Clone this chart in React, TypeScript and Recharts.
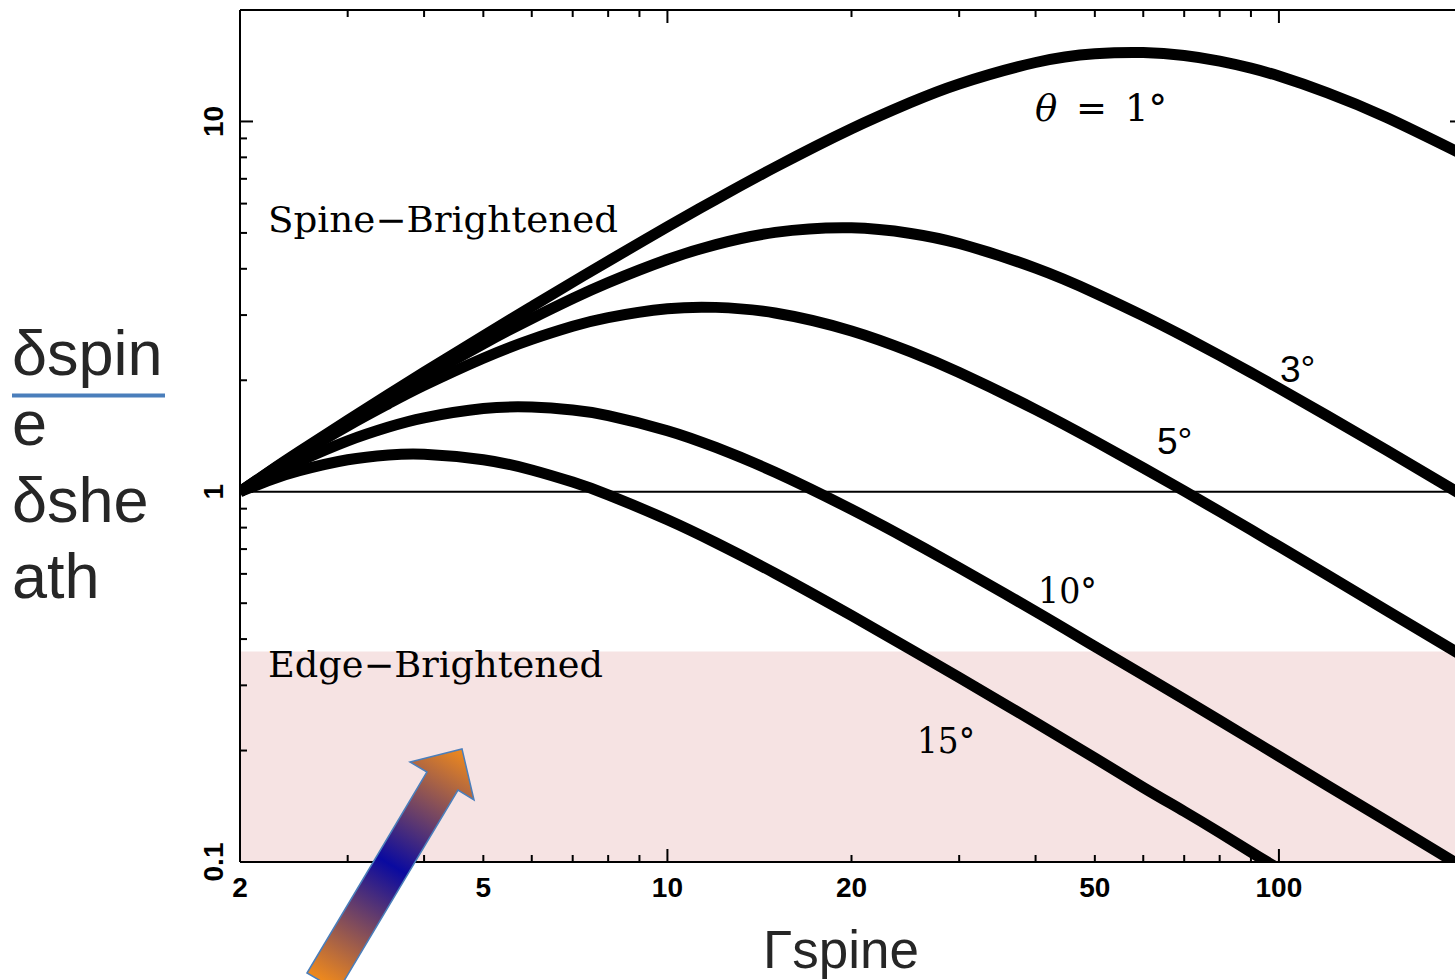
import React from 'react';
import { Line, LineChart, ReferenceArea, ReferenceLine, XAxis, YAxis } from 'recharts';

// Lorentz factor of the spine (sheath fixed at 2)
const gammaSpine = [2, 2.25, 2.5, 3, 3.5, 4, 5, 6, 7, 8, 10, 12, 15, 20, 25, 30, 40, 50, 60, 70, 80, 90, 100, 120, 150, 200];

// Doppler ratio δspine/δsheath for each viewing angle
const ratioTheta1 = [1, 1.143, 1.283, 1.559, 1.832, 2.102, 2.636, 3.162, 3.682, 4.194, 5.193, 6.158, 7.522, 9.559, 11.26, 12.63, 14.43, 15.23, 15.35, 15.07, 14.55, 13.93, 13.26, 11.95, 10.25, 8.14];
const ratioTheta3 = [1, 1.14, 1.276, 1.541, 1.796, 2.043, 2.509, 2.937, 3.325, 3.672, 4.239, 4.651, 5.016, 5.16, 4.984, 4.68, 4.017, 3.443, 2.985, 2.623, 2.333, 2.097, 1.903, 1.603, 1.294, 0.977];
const ratioTheta5 = [1, 1.134, 1.263, 1.506, 1.73, 1.937, 2.294, 2.579, 2.797, 2.954, 3.12, 3.147, 3.039, 2.718, 2.386, 2.099, 1.667, 1.371, 1.16, 1.004, 0.884, 0.789, 0.712, 0.596, 0.478, 0.36];
const ratioTheta10 = [1, 1.11, 1.208, 1.372, 1.495, 1.583, 1.677, 1.693, 1.662, 1.605, 1.462, 1.317, 1.129, 0.896, 0.737, 0.623, 0.475, 0.382, 0.32, 0.275, 0.241, 0.2144, 0.193, 0.161, 0.129, 0.0968];
const ratioTheta15 = [1, 1.079, 1.14, 1.22, 1.257, 1.263, 1.22, 1.145, 1.062, 0.981, 0.84, 0.728, 0.602, 0.463, 0.375, 0.315, 0.238, 0.191, 0.159, 0.137, 0.12, 0.1064, 0.0958, 0.0799, 0.0639, 0.048];

const seriesKeys = ['t1', 't3', 't5', 't10', 't15'];
const seriesValues = [ratioTheta1, ratioTheta3, ratioTheta5, ratioTheta10, ratioTheta15];

const xTicks = [2, 3, 4, 5, 6, 7, 8, 9, 10, 20, 30, 40, 50, 60, 70, 80, 90, 100, 200];
const xTickLabels = [2, 5, 10, 20, 50, 100];
const xMajor = [10, 100];

const yTicks = [0.1, 0.2, 0.3, 0.4, 0.5, 0.6, 0.7, 0.8, 0.9, 1, 2, 3, 4, 5, 6, 7, 8, 9, 10, 20];
const yTickLabels = [0.1, 1, 10];
const yMajor = [1, 10];

// edge-brightened region: ratio below this
const edgeLimit = 0.37;

const data = gammaSpine.map((g, i) => {
  const row: Record<string, number> = { gamma: g };
  seriesKeys.forEach((k, j) => {
    row[k] = seriesValues[j][i];
  });
  return row;
});

const tickFont = '"Liberation Sans", Arial, sans-serif';
const serif = '"DejaVu Serif", "Liberation Serif", serif';
const sans = '"Liberation Sans", Arial, sans-serif';

function BottomTick(props: any) {
  const { x, y, payload } = props;
  const v = payload.value;
  const len = xMajor.includes(v) ? 13 : 7;
  return (
    <g>
      <line x1={x} x2={x} y1={y} y2={y - len} stroke="#000" strokeWidth={2} />
      {xTickLabels.includes(v) && (
        <text x={x} y={y + 35} textAnchor="middle" fontFamily={tickFont} fontWeight="bold" fontSize={28} fill="#000">
          {v}
        </text>
      )}
    </g>
  );
}

function TopTick(props: any) {
  const { x, y, payload } = props;
  const len = xMajor.includes(payload.value) ? 13 : 7;
  return <line x1={x} x2={x} y1={y} y2={y + len} stroke="#000" strokeWidth={2} />;
}

function LeftTick(props: any) {
  const { x, y, payload } = props;
  const v = payload.value;
  const len = yMajor.includes(v) ? 13 : 7;
  const cx = x - 27;
  return (
    <g>
      <line x1={x} x2={x + len} y1={y} y2={y} stroke="#000" strokeWidth={2} />
      {yTickLabels.includes(v) && (
        <text
          x={cx}
          y={y + 10}
          transform={`rotate(-90 ${cx} ${y})`}
          textAnchor="middle"
          fontFamily={tickFont}
          fontWeight="bold"
          fontSize={28}
          fill="#000"
        >
          {v}
        </text>
      )}
    </g>
  );
}

function RightTick(props: any) {
  const { x, y, payload } = props;
  const len = yMajor.includes(payload.value) ? 13 : 7;
  return <line x1={x} x2={x - len} y1={y} y2={y} stroke="#000" strokeWidth={2} />;
}

function Arrow() {
  return (
    <g>
      <defs>
        <linearGradient id="arrowFill" gradientUnits="userSpaceOnUse" x1={322} y1={982} x2={462} y2={749}>
          <stop offset="0" stopColor="#f08a1c" />
          <stop offset="0.5" stopColor="#0a0aa0" />
          <stop offset="1" stopColor="#f08a1c" />
        </linearGradient>
      </defs>
      <polygon
        points="307,973 427,772 410,762 462,749 474,800 458,790 338,991"
        fill="url(#arrowFill)"
        stroke="#4a7ebb"
        strokeWidth={1.5}
        strokeLinejoin="miter"
      />
    </g>
  );
}

const axisLineStyle = { stroke: '#000', strokeWidth: 2 };

export default function App() {
  return (
    <div style={{ position: 'absolute', left: 0, top: 0, width: 1455, height: 980, overflow: 'hidden', background: '#fff' }}>
      <LineChart width={1480} height={980} data={data} margin={{ top: 9, right: 16, bottom: 117, left: 239 }}>
        <XAxis
          xAxisId="bottom"
          dataKey="gamma"
          type="number"
          scale="log"
          domain={[2, 200]}
          allowDataOverflow
          ticks={xTicks}
          interval={0}
          height={1}
          tickSize={0}
          tickMargin={0}
          tickLine={false}
          tick={BottomTick}
          axisLine={axisLineStyle}
        />
        <XAxis
          xAxisId="top"
          orientation="top"
          dataKey="gamma"
          type="number"
          scale="log"
          domain={[2, 200]}
          allowDataOverflow
          ticks={xTicks}
          interval={0}
          height={1}
          tickSize={0}
          tickMargin={0}
          tickLine={false}
          tick={TopTick}
          axisLine={axisLineStyle}
        />
        <YAxis
          yAxisId="left"
          type="number"
          scale="log"
          domain={[0.1, 20]}
          allowDataOverflow
          ticks={yTicks}
          interval={0}
          width={1}
          tickSize={0}
          tickMargin={0}
          tickLine={false}
          tick={LeftTick}
          axisLine={axisLineStyle}
        />
        <YAxis
          yAxisId="right"
          orientation="right"
          type="number"
          scale="log"
          domain={[0.1, 20]}
          allowDataOverflow
          ticks={yTicks}
          interval={0}
          width={1}
          tickSize={0}
          tickMargin={0}
          tickLine={false}
          tick={RightTick}
          axisLine={axisLineStyle}
        />
        <ReferenceArea
          xAxisId="bottom"
          yAxisId="left"
          y1={0.1}
          y2={edgeLimit}
          fill="#f6e3e3"
          fillOpacity={1}
          stroke="none"
        />
        <ReferenceLine xAxisId="bottom" yAxisId="left" y={1} stroke="#000" strokeWidth={2} />
        {seriesKeys.map((k) => (
          <Line
            key={k}
            xAxisId="bottom"
            yAxisId="left"
            dataKey={k}
            type="natural"
            stroke="#000"
            strokeWidth={11}
            strokeLinejoin="round"
            dot={false}
            activeDot={false}
            isAnimationActive={false}
          />
        ))}
      </LineChart>

      <svg
        width={1455}
        height={980}
        style={{ position: 'absolute', left: 0, top: 0, pointerEvents: 'none' }}
      >
        {/* region and angle annotations */}
        <text x={268} y={232} fontFamily={serif} fontSize={35} textLength={350} lengthAdjust="spacingAndGlyphs" fill="#000">
          Spine−Brightened
        </text>
        <text x={268} y={677} fontFamily={serif} fontSize={35} textLength={335} lengthAdjust="spacingAndGlyphs" fill="#000">
          Edge−Brightened
        </text>
        <text y={121} fontFamily={serif} fontSize={37} fill="#000">
          <tspan x={1035} fontStyle="italic">θ</tspan>
          <tspan x={1076}>=</tspan>
          <tspan x={1125}>1°</tspan>
        </text>
        <text x={1280} y={382} fontFamily={sans} fontSize={37} fill="#000">3°</text>
        <text x={1157} y={454} fontFamily={sans} fontSize={37} fill="#000">5°</text>
        <text x={1038} y={603} fontFamily={serif} fontSize={36} textLength={59} lengthAdjust="spacingAndGlyphs" fill="#000">
          10°
        </text>
        <text x={917} y={753} fontFamily={serif} fontSize={36} textLength={58} lengthAdjust="spacingAndGlyphs" fill="#000">
          15°
        </text>

        {/* axis titles */}
        <g fontFamily={sans} fontSize={63} fill="#262626">
          <text x={12} y={375}>δspin</text>
          <text x={12} y={445}>e</text>
          <text x={12} y={522}>δshe</text>
          <text x={12} y={598}>ath</text>
        </g>
        <line x1={12} x2={165} y1={395.5} y2={395.5} stroke="#4a7ebb" strokeWidth={4} />
        <text x={763} y={968} fontFamily={sans} fontSize={53} fill="#262626">Γspine</text>

        <Arrow />
      </svg>
    </div>
  );
}
